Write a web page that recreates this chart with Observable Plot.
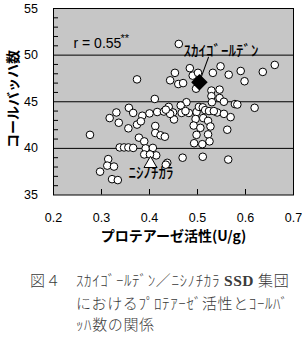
<!DOCTYPE html>
<html><head><meta charset="utf-8">
<script src="https://cdn.jsdelivr.net/npm/d3@7"></script>
<script src="https://cdn.jsdelivr.net/npm/@observablehq/plot@0.6"></script>
<style>
html,body{margin:0;padding:0;background:#fff;}
body{width:302px;height:344px;overflow:hidden;}
#chart{position:relative;width:302px;height:250px;}
#chart svg{display:block;}
#ylab{position:absolute;left:12px;top:98.5px;transform:translate(-50%,-50%) rotate(-90deg);white-space:nowrap;font-family:"Noto Sans CJK JP","Noto Sans",sans-serif;font-weight:bold;font-size:14px;line-height:16px;color:#000;}
#cap{position:relative;margin-top:19px;display:flex;font-family:"Noto Sans CJK JP","Noto Sans",sans-serif;font-size:15px;letter-spacing:0.6px;line-height:21.5px;color:#3a3a3a;white-space:nowrap;font-weight:300;}
#cap .fig{width:46px;padding-left:30px;}
#cap .serif{font-family:"Liberation Serif",serif;font-weight:bold;font-size:15.5px;}
</style></head><body>
<div id="chart"><div id="ylab"></div></div>
<div id="cap"><div class="fig">図４</div><div class="body">ｽｶｲｺﾞｰﾙﾃﾞﾝ／ﾆｼﾉﾁｶﾗ <span class="serif">SSD</span> 集団<br>におけるﾌﾟﾛﾃｱｰｾﾞ活性とｺｰﾙﾊﾞ<br>ｯﾊ数の関係</div></div>
<script>
// protease activity (U/g) for each line of the SSD population
const protease = [0.461,0.374,0.453,0.443,0.460,0.470,0.484,0.490,0.501,0.497,0.532,0.548,0.565,0.590,0.598,0.636,0.661,0.529,0.546,0.411,0.529,0.546,0.530,0.555,0.578,0.583,0.619,0.477,0.465,0.440,0.357,0.366,0.331,0.317,0.385,0.400,0.416,0.430,0.449,0.451,0.467,0.482,0.498,0.503,0.511,0.516,0.524,0.541,0.555,0.569,0.496,0.512,0.522,0.527,0.492,0.506,0.522,0.498,0.525,0.493,0.510,0.562,0.336,0.356,0.374,0.382,0.412,0.412,0.423,0.432,0.276,0.378,0.389,0.338,0.347,0.356,0.366,0.392,0.407,0.389,0.414,0.314,0.312,0.326,0.297,0.322,0.334,0.437,0.434,0.469,0.511,0.564,0.401,0.443,0.434,0.475,0.534];
// Kolbach index for each line
const kolbach = [51.2,47.4,48.1,47.3,46.9,47.0,48.6,47.8,48.1,46.4,48.1,48.8,47.9,48.3,47.2,48.2,48.95,46.2,46.3,45.3,45.6,45.4,44.95,45.0,44.75,44.7,44.35,44.95,44.6,44.45,44.35,43.8,43.85,43.25,43.5,43.75,43.9,43.95,43.85,43.1,43.8,43.8,43.9,44.45,44.4,44.1,44.0,43.85,43.7,43.35,43.15,43.25,42.95,42.35,42.45,42.2,41.5,41.45,40.75,40.55,40.45,42.0,42.75,42.15,42.55,42.9,42.4,41.65,41.4,41.25,41.45,41.15,40.75,40.1,40.1,40.1,40.05,40.0,40.05,39.35,39.25,38.85,38.15,38.05,37.5,36.7,36.6,38.45,38.25,39.0,39.1,38.8,39.35,43.7,44.15,44.0,44.0];
// parent cultivars
const cultivarNames = ["ｽｶｲｺﾞｰﾙﾃﾞﾝ", "ﾆｼﾉﾁｶﾗ"];
const cultivarProtease = [0.504, 0.402];
const cultivarKolbach = [47.1, 38.35];
// axes
const xTicks = [0.2, 0.3, 0.4, 0.5, 0.6, 0.7];
const xInnerTicks = [0.3, 0.4, 0.5, 0.6];
const yTicks = [35, 40, 45, 50, 55];
const yGrid = [40, 45, 50];
const yMinor = [36,37,38,39,41,42,43,44,46,47,48,49,51,52,53,54];
const xLabel = "プロテアーゼ活性(U/g)";
const yLabel = "コールバッハ数";
const corrText = "r = 0.55";
const corrSig = "**";

const points = protease.map((p, i) => ({x: p, y: kolbach[i]}));
const cultivars = cultivarNames.map((n, i) => ({name: n, x: cultivarProtease[i], y: cultivarKolbach[i]}));

const jp = "'Noto Sans CJK JP', 'Noto Sans', sans-serif";
const chart = Plot.plot({
  width: 302, height: 250,
  marginLeft: 53, marginRight: 9, marginTop: 8, marginBottom: 55.5,
  style: {fontFamily: "'Liberation Sans', Arial, sans-serif", fontSize: "12.5px", color: "black", background: "white"},
  x: {domain: [0.2, 0.7], ticks: xTicks, tickFormat: d3.format(".1f"), tickSize: 0, tickPadding: 18, label: null},
  y: {domain: [35, 55], ticks: yTicks, tickSize: 0, tickPadding: 15.5, label: null},
  marks: [
    Plot.frame({fill: "#c6c6c6"}),
    Plot.ruleY(yGrid, {stroke: "black", strokeWidth: 1}),
    Plot.tickY(yMinor, {y: d => d, insetRight: 235, stroke: "black"}),
    Plot.tickX(xInnerTicks, {x: d => d, insetTop: 181, stroke: "black"}),
    Plot.vector([cultivars[0]], {x: "x", y: "y", length: 26.5, rotate: 20, anchor: "start", stroke: "black", strokeWidth: 1,
      shape: {draw(c, l) { c.moveTo(0, 0); c.lineTo(0, -l); }}}),
    Plot.dot(points, {x: "x", y: "y", r: 3.8, fill: "white", stroke: "black", strokeWidth: 1}),
    Plot.dot([cultivars[0]], {x: "x", y: "y", symbol: "diamond2", r: 6.5, fill: "black", stroke: "black"}),
    Plot.dot([cultivars[1]], {x: "x", y: "y", symbol: "triangle", r: 4.8, fill: "white", stroke: "black", strokeWidth: 1}),
    Plot.text([cultivars[0]], {x: "x", y: "y", text: "name", dx: -16, dy: -31, textAnchor: "start", fontFamily: jp, fontSize: 15, fontWeight: 500, fill: "black"}),
    Plot.text([cultivars[1]], {x: "x", y: "y", text: "name", dx: -22, dy: 9, textAnchor: "start", fontFamily: jp, fontSize: 15, fontWeight: 500, fill: "black"}),
    Plot.text([corrText], {frameAnchor: "top-left", dx: 20, dy: 35, textAnchor: "start", lineAnchor: "middle", fontSize: 14, fill: "black"}),
    Plot.text([corrSig], {frameAnchor: "top-left", dx: 67, dy: 30, textAnchor: "start", lineAnchor: "middle", fontSize: 11, fill: "black"}),
    Plot.text([xLabel], {frameAnchor: "bottom", dy: 42, lineAnchor: "middle", fontFamily: jp, fontSize: 14, fontWeight: "bold", fill: "black"}),
    Plot.frame({stroke: "black", strokeWidth: 1})
  ]
});
const holder = document.getElementById("chart");
holder.insertBefore(chart, holder.firstChild);
document.getElementById("ylab").textContent = yLabel;
</script>
</body></html>
